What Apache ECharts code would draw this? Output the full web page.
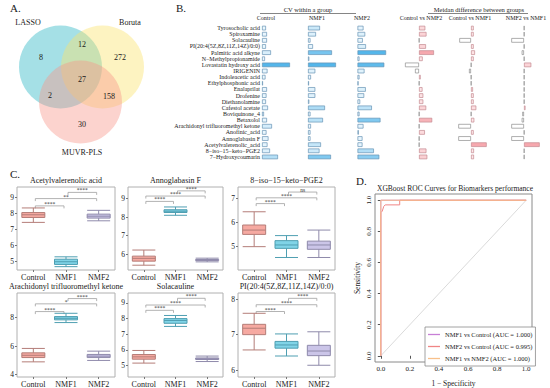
<!DOCTYPE html>
<html><head><meta charset="utf-8">
<script src="https://cdn.jsdelivr.net/npm/echarts@6/dist/echarts.min.js"></script>
<style>html,body{margin:0;padding:0;background:#fff}#c{width:550px;height:388px}</style>
</head><body><div id="c"></div>
<script>
const FONT = 'Liberation Serif';

// ---------- Panel A: Venn ----------
const vennSets = ['LASSO', 'Boruta', 'MUVR-PLS'];
// LASSO only, LASSO∩Boruta, Boruta only, all three, LASSO∩MUVR, Boruta∩MUVR, MUVR only
const vennCounts = [8, 12, 272, 27, 2, 158, 30];

// ---------- Panel B ----------
const metabolites = ['Tyrosocholic acid','Spiroxamine','Solacauline','PI(20:4(5Z,8Z,11Z,14Z)/0:0)','Palmitic acid alkyne','N\u2212Methylpropionamide','Lovastatin hydroxy acid','IRIGENIN','Indoleacetic acid','Ethylphosphonic acid','Enalaprilat','Drofenine','Diethanolamine','Cafestol acetate','Boviquinone_4','Betaxolol','Arachidonyl trifluoromethyl ketone','Anofinic_acid','Annoglabasin F','Acetylvalerenolic_acid','8\u2212iso\u221215\u2212keto\u2212PGE2','7\u2212Hydroxycoumarin'];
const cvGroups = ['Control', 'NMF1', 'NMF2'];
const cvControl = [4, 5, 5, 4, 9, 3, 28, 5.5, 3.5, 1, 5, 4.5, 4, 6, 2, 5, 10, 4.5, 6.5, 5.5, 8, 16];
const cvNMF1    = [12, 8, 2.5, 5, 24, 1.3, 28, 7.3, 3, 1, 7.3, 7.3, 1.3, 17, 2.5, 15, 3, 2.5, 2.5, 13, 11.5, 23];
const cvNMF2    = [6, 7.7, 5.3, 8.5, 28.6, 2, 26.8, 7, 2, 1, 8.3, 6.7, 2.7, 14.4, 2, 23, 6, 1.3, 5, 5, 16.4, 21.8];
const diffPairs = ['Control vs NMF2', 'Control vs NMF1', 'NMF2 vs NMF1'];
const diffCN2  = [6.3, 7.5, 0.3, 7, 15, 3.7, -14, -4, 1.7, 0.3, 3.5, 4.3, 4.3, 7.2, 0.3, 13.2, 0.3, 5.9, 0.3, 0.3, 7.4, 8.3];
const diffCN1  = [2.7, 2.7, -11.7, 2.7, 4, 2.7, 0.3, -2, 0.3, 0.3, 2, 2.7, 2.7, 5.3, 0.3, 3.3, -12.7, 2.7, -12.7, 15.7, 3, 3];
const diffN2N1 = [0.3, 0.3, -12.7, 0.3, -2.3, 0.3, 7.3, 0.3, 0.3, 0.3, 0.3, 0.3, 0.3, 1.5, -1.7, -2.3, -12.7, 0.3, -12.7, 15.7, 0.3, 0.3];

// ---------- Panel C ----------
const groups = ['Control', 'NMF1', 'NMF2'];
const boxTitles = ['Acetylvalerenolic acid', 'Annoglabasin F', '8\u2212iso\u221215\u2212keto\u2212PGE2',
                   'Arachidonyl trifluoromethyl ketone', 'Solacauline', 'PI(20:4(5Z,8Z,11Z,14Z)/0:0)'];
// [min, Q1, median, Q3, max] per group
const box1 = [[7.44, 7.75, 7.92, 8.06, 8.35], [4.65, 4.79, 4.96, 5.12, 5.27], [7.54, 7.71, 7.83, 7.96, 8.2]];
const box2 = [[5.4, 5.62, 5.77, 5.89, 6.22], [8.1, 8.25, 8.32, 8.4, 8.55], [5.58, 5.65, 5.68, 5.71, 5.78]];
const box3 = [[5.0, 5.51, 5.69, 5.9, 6.45], [4.55, 4.93, 5.07, 5.25, 5.46], [4.55, 4.89, 5.07, 5.23, 5.69]];
const box4 = [[4.9, 5.2, 5.36, 5.53, 5.84], [7.65, 7.84, 7.95, 8.07, 8.3], [5.0, 5.2, 5.3, 5.42, 5.65]];
const box5 = [[5.15, 5.4, 5.55, 5.7, 5.96], [7.5, 7.7, 7.88, 8.0, 8.2], [5.25, 5.38, 5.43, 5.48, 5.6]];
const box6 = [[6.57, 7.0, 7.18, 7.29, 7.6], [6.4, 6.62, 6.71, 6.81, 7.02], [6.14, 6.41, 6.54, 6.7, 7.08]];
// [group i, group j, bracket height, label]
const sig1 = [[0, 1, 8.48, '****'], [0, 2, 8.94, '**'], [1, 2, 9.33, '****']];
const sig2 = [[0, 1, 8.85, '****'], [0, 2, 9.14, '****'], [1, 2, 9.42, '****']];
const sig3 = [[0, 1, 6.79, '****'], [0, 2, 7.03, '****'], [1, 2, 7.27, 'ns']];
const sig4 = [[0, 1, 8.42, '****'], [0, 2, 8.96, '*'], [1, 2, 9.33, '****']];
const sig5 = [[0, 1, 8.53, '****'], [0, 2, 8.87, '****'], [1, 2, 9.3, '****']];
const sig6 = [[0, 1, 7.65, '****'], [0, 2, 7.84, '****'], [1, 2, 8.02, '****']];
const yRanges = [[4.44, 9.67], [5.14, 9.63], [4.03, 7.48], [3.84, 9.72], [4.26, 9.64], [5.81, 8.17]];
const yTicks = [[5, 6, 7, 8, 9], [6, 7, 8, 9], [5, 6, 7], [4, 6, 8], [5, 6, 7, 8, 9], [6, 7, 8]];

// ---------- Panel D ----------
const rocNames = ['NMF1 vs Control (AUC = 1.000)', 'NMF2 vs Control (AUC = 0.995)', 'NMF1 vs NMF2 (AUC = 1.000)'];
const roc1 = [[0, 0], [0, 1], [1, 1]];
const roc2 = [[0, 0], [0, 0.92], [0.01, 0.93], [0.02, 0.96], [0.03, 0.97], [0.13, 0.97], [0.13, 1], [1, 1]];
const roc3 = [[0, 0], [0, 1], [1, 1]];
const rocTicks = [0, 0.2, 0.4, 0.6, 0.8, 1.0];

// ================= build =================
function mix(a, b, t) {
  t = Math.max(0, Math.min(1, t));
  const c = a.map((v, i) => Math.round(v + (b[i] - v) * t));
  return 'rgb(' + c.join(',') + ')';
}
const grids = [], xAxes = [], yAxes = [], series = [], graphics = [];
function txt(x, y, text, size, opts) {
  graphics.push(Object.assign({ type: 'text', x: x, y: y, silent: true,
    style: Object.assign({ text: text, fontSize: size, fontFamily: FONT, fill: '#1a1a1a', align: 'center', verticalAlign: 'middle' }, opts || {}) }));
}
function hline(x1, x2, y, color) {
  graphics.push({ type: 'line', silent: true, shape: { x1: x1, y1: y, x2: x2, y2: y }, style: { stroke: color || '#555', lineWidth: 0.8 } });
}

// Panel labels
txt(10, 8, 'A.', 11, { align: 'left' });
txt(176, 8, 'B.', 11, { align: 'left' });
txt(10, 174, 'C.', 11, { align: 'left' });
txt(356, 181, 'D.', 11, { align: 'left' });

// Venn circles
const vc = [[60.5, 67, 'rgba(31,177,193,0.4)'], [102.5, 67, 'rgba(251,227,107,0.42)'], [80.5, 102, 'rgba(247,149,139,0.42)']];
vc.forEach(c => graphics.push({ type: 'circle', silent: true, shape: { cx: c[0], cy: c[1], r: 41.5 }, style: { fill: c[2] } }));
const vennPos = [[41, 57], [82, 44], [120, 57], [82, 79], [50, 95], [109, 96], [82, 124]];
vennCounts.forEach((n, i) => txt(vennPos[i][0], vennPos[i][1], String(n), 8));
txt(28, 22, vennSets[0], 8);
txt(130, 22, vennSets[1], 8);
txt(82, 152, vennSets[2], 8);

// Panel B
const bTop = 25, bH = 135;
function addBGrid(left, width, min, max, showLabels) {
  const gi = grids.length;
  grids.push({ left: left, top: bTop, width: width, height: bH, show: false });
  xAxes.push({ gridIndex: gi, type: 'value', min: min, max: max, show: false });
  yAxes.push({ gridIndex: gi, type: 'category', data: metabolites, inverse: true,
    axisLine: { show: false }, axisTick: { show: false }, splitLine: { show: false },
    axisLabel: { show: !!showLabels, interval: 0, fontSize: 6, fontFamily: FONT, color: '#222', margin: 2 } });
  return gi;
}
const cvData = [cvControl, cvNMF1, cvNMF2];
const cvLeft = [262, 308, 357.5];
const blueLo = [240, 249, 254], blueHi = [84, 182, 234];
cvData.forEach((arr, k) => {
  const gi = addBGrid(cvLeft[k], 45, 0, 45, k === 0);
  series.push({ type: 'bar', name: cvGroups[k], xAxisIndex: gi, yAxisIndex: gi, barWidth: 4.6, silent: true,
    data: arr.map(v => ({ value: v, itemStyle: { color: mix(blueLo, blueHi, Math.pow(v / 28, 1.7)), borderColor: '#6794b5', borderWidth: 0.7 } })) });
});
const diffData = [diffCN2, diffCN1, diffN2N1];
const diffBase = [419, 471, 524];
const pinkLo = [254, 240, 241], pinkHi = [246, 168, 174];
diffData.forEach((arr, k) => {
  const gi = addBGrid(diffBase[k] - 20, 40, -20, 20, false);
  series.push({ type: 'bar', name: diffPairs[k], xAxisIndex: gi, yAxisIndex: gi, barWidth: 4.6, silent: true,
    data: arr.map(v => {
      let st;
      if (Math.abs(v) < 0.5 || v < 0) st = { color: '#ffffff', borderColor: '#8d8d8d', borderWidth: 0.7 };
      else st = { color: mix(pinkLo, pinkHi, Math.pow(v / 15, 1.3)), borderColor: '#c48a90', borderWidth: 0.7 };
      return { value: v, itemStyle: st };
    }) });
});
// headers
txt(308, 9, 'CV within a group', 6.5);
hline(260, 356, 13.5, '#666');
txt(266, 18, cvGroups[0], 6);
txt(317, 18, cvGroups[1], 6);
txt(362, 18, cvGroups[2], 6);
txt(479, 9, 'Meidan difference between groups', 6.5);
hline(428, 528, 13.5, '#666');
txt(421, 18, diffPairs[0], 6);
txt(470, 18, diffPairs[1], 6);
txt(526, 18, diffPairs[2], 6);

// Panel C
const boxes = [box1, box2, box3, box4, box5, box6];
const sigs = [sig1, sig2, sig3, sig4, sig5, sig6];
const cLefts = [17, 128, 238], cWidths = [98, 95, 97];
const cTops = [187, 293], cH = [83, 84];
const fills = ['#f6a9a1', '#80d4e7', '#cbc5e8'];
const borders = ['#b47d78', '#4f9fb2', '#8f8aab'];
boxes.forEach((bx, k) => {
  const r = Math.floor(k / 3), c = k % 3;
  const gi = grids.length;
  grids.push({ left: cLefts[c], top: cTops[r], width: cWidths[c], height: cH[r], show: true, borderColor: '#b0b0b0', borderWidth: 1 });
  xAxes.push({ gridIndex: gi, type: 'category', data: groups,
    axisLine: { show: false }, axisTick: { show: true, alignWithLabel: true, interval: 0, length: 2, lineStyle: { color: '#777' } },
    axisLabel: { interval: 0, fontSize: 8, fontFamily: FONT, color: '#1a1a1a', margin: 3 } });
  yAxes.push({ gridIndex: gi, type: 'value', min: yRanges[k][0], max: yRanges[k][1], splitLine: { show: false },
    axisLine: { show: false }, axisTick: { show: true, length: 2, customValues: yTicks[k], lineStyle: { color: '#777' } },
    axisLabel: { fontSize: 7.5, fontFamily: FONT, color: '#1a1a1a', margin: 3, customValues: yTicks[k] } });
  series.push({ type: 'boxplot', xAxisIndex: gi, yAxisIndex: gi, boxWidth: [23, 23], silent: true,
    data: bx.map((d, i) => ({ value: d, itemStyle: { color: fills[i], borderColor: borders[i], borderWidth: 1 } })) });
  const sg = sigs[k];
  series.push({ type: 'custom', xAxisIndex: gi, yAxisIndex: gi, silent: true,
    data: sg.map(s => [s[0], s[1], s[2]]),
    renderItem: function (params, api) {
      const p1 = api.coord([api.value(0), api.value(2)]);
      const p2 = api.coord([api.value(1), api.value(2)]);
      const sh = 2;
      const x1 = p1[0] + sh, x2 = p2[0] - sh, y = p1[1];
      return { type: 'group', children: [
        { type: 'polyline', shape: { points: [[x1, y + 2.5], [x1, y], [x2, y], [x2, y + 2.5]] }, style: { stroke: '#a0a0a0', fill: null, lineWidth: 0.8 } },
        { type: 'text', x: (x1 + x2) / 2, y: y + 1, style: { text: sg[params.dataIndex][3], fontSize: 5.5, fontFamily: FONT, fill: '#333', align: 'center', verticalAlign: 'bottom' } }
      ] };
    } });
  txt(cLefts[c] + cWidths[c] / 2, cTops[r] - 6.5, boxTitles[k], 8);
});

// Panel D
const gD = grids.length;
grids.push({ left: 375, top: 194, width: 157, height: 169, show: true, borderColor: '#8a8a8a', borderWidth: 1 });
xAxes.push({ gridIndex: gD, type: 'value', min: -0.04, max: 1.04, splitLine: { show: false },
  axisLine: { show: false }, axisTick: { show: true, length: 3, customValues: rocTicks, lineStyle: { color: '#555' } },
  axisLabel: { fontSize: 7, fontFamily: FONT, color: '#1a1a1a', margin: 3, customValues: rocTicks, formatter: v => v.toFixed(1) },
  name: '1 \u2212 Specificity', nameLocation: 'middle', nameGap: 17, nameTextStyle: { fontSize: 7.5, fontFamily: FONT, color: '#1a1a1a' } });
yAxes.push({ gridIndex: gD, type: 'value', min: -0.04, max: 1.04, splitLine: { show: false },
  axisLine: { show: false }, axisTick: { show: true, length: 3, customValues: rocTicks, lineStyle: { color: '#555' } },
  axisLabel: { fontSize: 7, fontFamily: FONT, color: '#1a1a1a', margin: 3, rotate: 90, customValues: rocTicks, formatter: v => v.toFixed(1) },
  name: 'Sensitivity', nameLocation: 'middle', nameGap: 14, nameTextStyle: { fontSize: 7.5, fontFamily: FONT, color: '#1a1a1a' } });
series.push({ type: 'line', xAxisIndex: gD, yAxisIndex: gD, data: [[0, 0], [1, 1]], symbol: 'none', silent: true,
  lineStyle: { color: '#d0d0d0', width: 0.8 } });
const rocColors = ['#c77fd6', '#f08585', '#f8c08a'];
[roc1, roc2, roc3].forEach((d, i) => {
  series.push({ type: 'line', name: rocNames[i], xAxisIndex: gD, yAxisIndex: gD, data: d, symbol: 'none', silent: true,
    lineStyle: { color: rocColors[i], width: 1 }, itemStyle: { color: rocColors[i] } });
});
txt(455, 188, 'XGBoost ROC Curves for Biomarkers performance', 7.5);

const chart = echarts.init(document.getElementById('c'), null, { renderer: 'svg' });
chart.setOption({
  animation: false,
  backgroundColor: '#fff',
  textStyle: { fontFamily: FONT },
  grid: grids, xAxis: xAxes, yAxis: yAxes, series: series,
  legend: { data: rocNames, orient: 'vertical', left: 425, top: 327, icon: 'rect', itemWidth: 12, itemHeight: 1.3, itemGap: 5,
    padding: [4, 3, 4, 3], borderColor: '#8a8a8a', borderWidth: 0.8, backgroundColor: '#fff', selectedMode: false,
    textStyle: { fontSize: 6.5, fontFamily: FONT, color: '#1a1a1a' } },
  graphic: graphics
});
</script></body></html>
